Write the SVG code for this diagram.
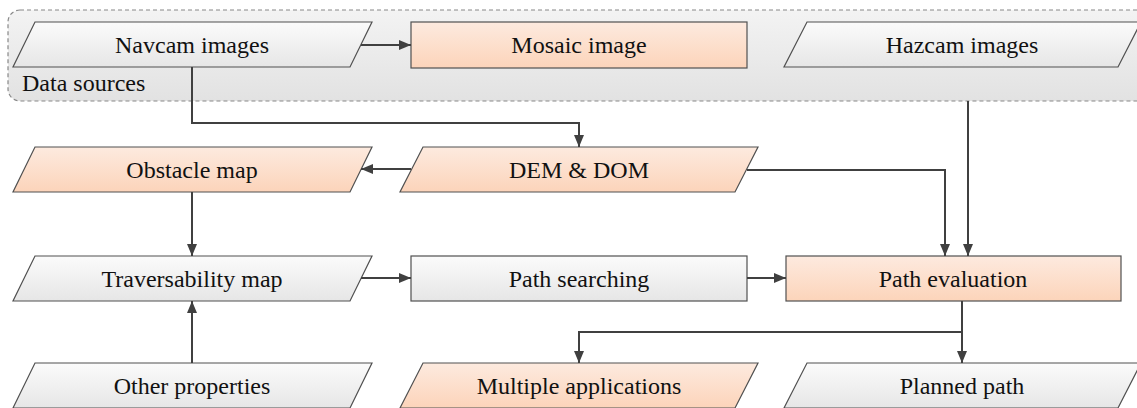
<svg xmlns="http://www.w3.org/2000/svg" width="1137" height="408" viewBox="0 0 1137 408">
<defs>
<linearGradient id="peach" x1="0" y1="0" x2="0" y2="1">
<stop offset="0" stop-color="#fdeadf"/>
<stop offset="1" stop-color="#fcd4ba"/>
</linearGradient>
<linearGradient id="gray" x1="0" y1="0" x2="0" y2="1">
<stop offset="0" stop-color="#fbfbfb"/>
<stop offset="1" stop-color="#e6e6e6"/>
</linearGradient>
<linearGradient id="cont" x1="0" y1="0" x2="0" y2="1">
<stop offset="0" stop-color="#f3f3f3"/>
<stop offset="1" stop-color="#e2e2e2"/>
</linearGradient>
<marker id="arr" viewBox="0 0 12 10" refX="12" refY="5" markerWidth="12" markerHeight="10" markerUnits="userSpaceOnUse" orient="auto">
<path d="M0,0 L12,5 L0,10 z" fill="#404040"/>
</marker>
</defs>
<style>
.p{fill:url(#peach);stroke:#505050;stroke-width:1.2}
.g{fill:url(#gray);stroke:#505050;stroke-width:1.2}
.t{font-family:"Liberation Serif","Times New Roman",serif;font-size:24px;fill:#111;text-anchor:middle}
.c{fill:none;stroke:#404040;stroke-width:2;marker-end:url(#arr)}
</style>
<g id="data-sources">
<rect x="8" y="10" width="1150" height="91" rx="12" fill="url(#cont)" stroke="#888" stroke-width="1.2" stroke-dasharray="4,3"/>
<text x="22" y="91" style="font-family:'Liberation Serif','Times New Roman',serif;font-size:24px;fill:#111">Data sources</text>
</g>
<g id="navcam">
<polygon class="g" points="35,22 372,22 350,67 13,67"/>
<text class="t" x="192" y="53">Navcam images</text>
</g>
<g id="mosaic">
<rect class="p" x="411" y="22" width="336" height="46"/>
<text class="t" x="579" y="53">Mosaic image</text>
</g>
<g id="hazcam">
<polygon class="g" points="807,22 1141,22 1118,67 784,67"/>
<text class="t" x="962" y="53">Hazcam images</text>
</g>
<g id="obstacle">
<polygon class="p" points="35,147 372,147 350,192 13,192"/>
<text class="t" x="192" y="178">Obstacle map</text>
</g>
<g id="dem">
<polygon class="p" points="423,147 758,147 735,192 400,192"/>
<text class="t" x="579" y="178">DEM &amp; DOM</text>
</g>
<g id="traversability">
<polygon class="g" points="35,256 372,256 350,301 13,301"/>
<text class="t" x="192" y="287">Traversability map</text>
</g>
<g id="path-searching">
<rect class="g" x="411" y="256" width="336" height="45"/>
<text class="t" x="579" y="287">Path searching</text>
</g>
<g id="path-evaluation">
<rect class="p" x="786" y="256" width="335" height="45"/>
<text class="t" x="953" y="287">Path evaluation</text>
</g>
<g id="other-properties">
<polygon class="g" points="35,363 372,363 350,408 13,408"/>
<text class="t" x="192" y="394">Other properties</text>
</g>
<g id="multiple-applications">
<polygon class="p" points="423,363 758,363 735,408 400,408"/>
<text class="t" x="579" y="394">Multiple applications</text>
</g>
<g id="planned-path">
<polygon class="g" points="807,363 1141,363 1118,408 784,408"/>
<text class="t" x="962" y="394">Planned path</text>
</g>
<g id="connectors">
<path class="c" d="M361,45 H411"/>
<path class="c" d="M192,67 V123 H579 V147"/>
<path class="c" d="M411,169 H361"/>
<path class="c" d="M747,170 H945 V256"/>
<path class="c" d="M968,101 V256"/>
<path class="c" d="M192,192 V256"/>
<path class="c" d="M361,278 H411"/>
<path class="c" d="M747,278 H786"/>
<path class="c" d="M192,363 V301"/>
<path class="c" d="M962,301 V332 H579 V363"/>
<path class="c" d="M962,332 V363"/>
</g>
</svg>
